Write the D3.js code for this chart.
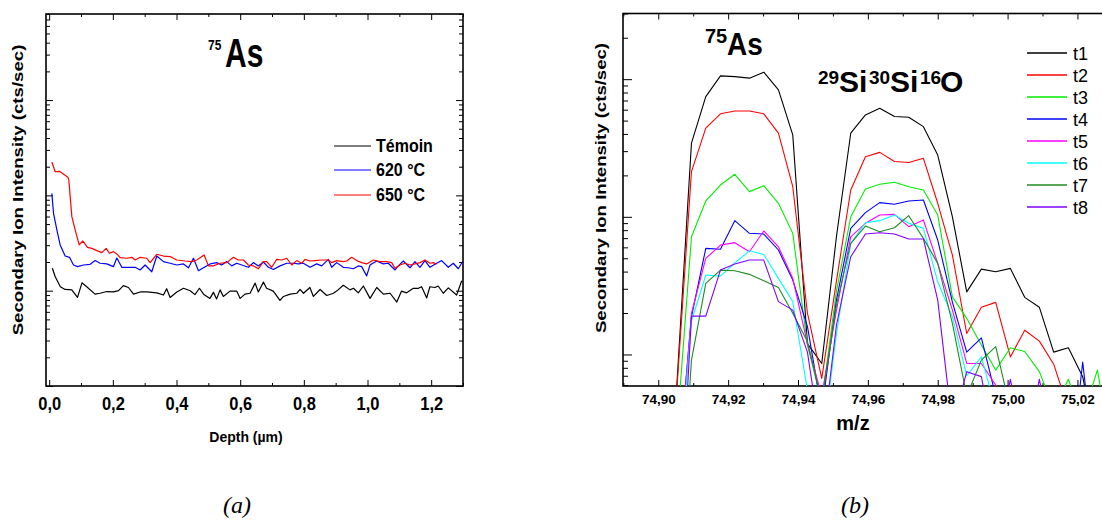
<!DOCTYPE html>
<html><head><meta charset="utf-8">
<script src="https://cdn.jsdelivr.net/npm/d3@7"></script>
<style>
body{margin:0;background:#fff}
svg{display:block}
text{font-family:Arial,"Liberation Sans",sans-serif;fill:#000}
</style>
</head><body>
<svg id="c" width="1102" height="520"></svg>
<script>
// ---------------- Panel (a): depth profiles ----------------
const depthTemoin = [0.010,0.019,0.035,0.050,0.071,0.089,0.103,0.118,0.144,0.160,0.181,0.202,0.218,0.233,0.249,0.265,0.286,0.307,0.338,0.359,0.369,0.380,0.401,0.422,0.443,0.458,0.472,0.485,0.505,0.516,0.526,0.537,0.547,0.568,0.589,0.600,0.615,0.631,0.647,0.657,0.673,0.683,0.704,0.725,0.736,0.757,0.778,0.788,0.799,0.819,0.830,0.851,0.872,0.893,0.903,0.924,0.945,0.956,0.971,0.987,1.008,1.029,1.050,1.071,1.092,1.107,1.123,1.144,1.160,1.170,1.186,1.196,1.212,1.222,1.238,1.254,1.280,1.296];
const temoin = [17.2,14.0,11.0,10.3,10.2,8.5,12.1,11.0,9.2,9.4,9.8,9.7,10.0,11.3,10.8,9.2,9.7,9.7,9.5,9.0,10.5,8.5,9.7,10.6,10.0,9.1,10.6,9.2,8.3,9.6,8.2,10.2,8.7,9.9,9.9,8.3,9.2,9.4,12.0,9.7,12.3,10.6,9.9,7.9,8.7,9.2,9.4,10.3,9.4,10.8,8.7,10.3,8.9,9.4,9.9,11.4,10.2,10.6,9.5,11.2,8.3,10.8,9.2,9.4,7.6,9.9,9.5,10.6,10.6,11.0,8.4,11.0,10.8,11.2,9.4,10.7,9.0,12.7];

const depth620 = [0.0084,0.0136,0.0241,0.0345,0.0502,0.0638,0.0764,0.0890,0.1078,0.1287,0.1444,0.1601,0.1811,0.2020,0.2125,0.2282,0.2491,0.2700,0.2857,0.3014,0.3223,0.3380,0.3590,0.3799,0.4008,0.4218,0.4375,0.4532,0.4689,0.4846,0.5055,0.5264,0.5421,0.5578,0.5735,0.5892,0.6049,0.6259,0.6415,0.6572,0.6729,0.6886,0.7043,0.7253,0.7462,0.7671,0.7828,0.7985,0.8195,0.8404,0.8561,0.8770,0.8875,0.9032,0.9241,0.9398,0.9555,0.9712,0.9817,0.9974,1.0079,1.0288,1.0497,1.0654,1.0864,1.0968,1.1125,1.1334,1.1491,1.1648,1.1805,1.1962,1.2119,1.2329,1.2538,1.2695,1.2852,1.2988];
const v620 = [105,64.9,43.4,30.2,23.1,22.4,18.6,17.9,18.6,18.9,20.7,19.4,19.1,17.9,22.0,17.6,17.6,17.6,16.5,18.6,15.8,23.1,20.2,19.4,18.6,19.1,17.4,21.9,16.2,17.4,19.1,19.7,18.6,20.2,18.2,19.4,18.6,17.6,19.7,18.2,20.0,17.6,16.7,18.2,19.4,19.4,19.1,19.4,17.6,19.1,18.2,21.3,17.6,19.7,17.6,17.4,17.0,18.2,17.9,14.3,18.6,20.5,19.1,19.4,16.5,18.2,20.5,17.4,20.2,17.6,20.7,17.6,18.9,20.7,17.6,19.4,17.0,20.2];

const depth650 = [0.0084,0.0188,0.0324,0.0586,0.0617,0.0712,0.0816,0.0942,0.1057,0.1204,0.1340,0.1497,0.1654,0.1790,0.1894,0.2020,0.2125,0.2229,0.2438,0.2596,0.2700,0.2857,0.3066,0.3171,0.3380,0.3590,0.3799,0.4008,0.4270,0.4479,0.4636,0.4867,0.5003,0.5160,0.5369,0.5578,0.5788,0.5944,0.6101,0.6259,0.6415,0.6572,0.6729,0.6834,0.6991,0.7148,0.7305,0.7462,0.7619,0.7776,0.7933,0.8038,0.8195,0.8352,0.8561,0.8770,0.8875,0.9032,0.9241,0.9346,0.9503,0.9660,0.9817,0.9974,1.0183,1.0392,1.0602,1.0759,1.0864,1.1020,1.1177,1.1334,1.1491,1.1648,1.1805,1.1962,1.2067,1.2171];
const v650 = [224,177,179,155,145,59.8,43.4,30.2,33.2,28.5,27.8,26.3,25.1,27.8,24.7,25.7,24.3,22.2,21.9,22.4,21.0,22.4,21.9,19.7,24.1,23.1,22.8,21.0,20.5,20.2,21.0,23.7,18.2,18.2,19.4,19.7,22.4,21.0,21.0,18.6,18.2,17.0,20.2,20.2,17.6,21.3,21.0,21.9,18.6,20.7,19.4,21.3,20.5,20.7,21.0,21.0,19.7,20.7,20.2,20.5,22.4,20.7,19.7,19.1,21.0,20.2,20.2,19.7,17.2,18.6,19.4,18.6,19.1,19.7,21.0,19.4,19.7,18.9];

const legendA = ["Témoin","620 °C","650 °C"];
const colorsA = ["#000000","#0000ff","#ff0000"];
const xMajorA = [0,0.2,0.4,0.6,0.8,1.0,1.2];
const xMinorA = [0.1,0.3,0.5,0.7,0.9,1.1,1.3];
const yMajorA = [1,10,100,1000];

// ---------------- Panel (b): mass spectra ----------------
const mz = [74.9012,74.9053,74.9095,74.9136,74.9178,74.9219,74.9261,74.9302,74.9344,74.9385,74.9427,74.9468,74.9510,74.9551,74.9593,74.9634,74.9676,74.9717,74.9759,74.9800,74.9842,74.9883,74.9925,74.9966,75.0008,75.0049,75.0091,75.0132,75.0174,75.0215,75.0257,75.0298];
const t1 = [1,59,3430,7470,10570,10440,10170,11240,8360,3940,120,86,716,4050,5500,6150,5350,5290,4520,2810,1000,285,417,399,422,260,220,104,112,69,20,10];
const t2 = [1,55,2130,4410,5600,5870,5870,5600,4050,1655,200,67,341,1567,2735,2940,2520,2480,2660,1254,527,142,220,239,96,150,125,85,40,20,10,5];
const t3 = [1,27,716,1303,1702,2036,1524,1683,1254,758,117,45,288,1000,1593,1722,1782,1655,1567,1030,262,183,117,77,112,105,75,40,66,35,77,20];
const t4 = [1,11,188,590,581,938,759,750,574,347,160,39,248,824,1072,1267,1233,1303,1325,678,240,104,132,50,20,10,10,10,10,88,10,5];
const t5 = [1,9.7,199,499,623,649,557,789,606,357,120,50,209,716,897,1030,1042,848,948,459,210,86,86,60,30,10,10,10,10,10,10,5];
const t6 = [1,8,175,378,371,463,566,533,357,242,55,20,141,641,906,938,1030,897,824,337,188,70,96,40,10,10,10,10,10,10,10,5];
const t7 = [1,2,91,328,410,406,382,343,307,199,124,45,229,641,857,780,833,1019,697,459,168,50,91,114,40,10,10,10,10,10,10,5];
const t8 = [1,2,190,190,410,454,485,485,242,210,104,21,163,513,750,766,750,690,690,248,30,75,69,20,66,20,66,20,10,10,10,5];
const seriesB = [t1,t2,t3,t4,t5,t6,t7,t8];
const legendB = ["t1","t2","t3","t4","t5","t6","t7","t8"];
const colorsB = ["#000000","#ff0000","#00ee00","#0000ff","#ff00ff","#00ffff","#228b22","#8000ff"];
const xMajorB = [74.90,74.92,74.94,74.96,74.98,75.00,75.02];
const xMinorB = [74.89,74.91,74.93,74.95,74.97,74.99,75.01];
const yMajorB = [100,1000,10000];

// ---------------- drawing ----------------
const svg = d3.select("#c");
const defs = svg.append("defs");

function minorLog(domain){
  const out=[];
  for(let e=-3;e<=6;e++){for(let m=2;m<=9;m++){const v=m*Math.pow(10,e); if(v>=domain[0]&&v<=domain[1]) out.push(v);}}
  return out;
}
function styleAxis(g){ g.select(".domain").remove(); g.selectAll(".tick line").attr("stroke","#000").attr("stroke-width",1); }

// Panel A
const A = {l:46, r:463, t:14, b:386};
const xA = d3.scaleLinear().domain([-0.01,1.30]).range([A.l,A.r]);
const yA = d3.scaleLog().domain([1,8000]).range([A.b,A.t]);
defs.append("clipPath").attr("id","clipA").append("rect").attr("x",A.l).attr("y",A.t).attr("width",A.r-A.l).attr("height",A.b-A.t);

const gA = svg.append("g");
const fmtA = v => d3.format(".1f")(v).replace(".",",");
gA.append("g").attr("transform",`translate(0,${A.b})`).call(d3.axisBottom(xA).tickValues(xMajorA).tickSizeInner(-6).tickSizeOuter(0).tickFormat(fmtA)).call(styleAxis)
  .selectAll("text").attr("y",0).attr("dy",null).attr("transform","translate(0,24) scale(1,1.12)")
  .style("font-size","16.5px").style("font-weight","bold").style("font-family","Arial, 'Liberation Sans', sans-serif");
gA.append("g").attr("transform",`translate(0,${A.b})`).call(d3.axisBottom(xA).tickValues(xMinorA).tickSizeInner(-3).tickSizeOuter(0).tickFormat("")).call(styleAxis);
gA.append("g").attr("transform",`translate(0,${A.t})`).call(d3.axisTop(xA).tickValues(xMajorA).tickSizeInner(-6).tickSizeOuter(0).tickFormat("")).call(styleAxis);
gA.append("g").attr("transform",`translate(0,${A.t})`).call(d3.axisTop(xA).tickValues(xMinorA).tickSizeInner(-3).tickSizeOuter(0).tickFormat("")).call(styleAxis);
gA.append("g").attr("transform",`translate(${A.l},0)`).call(d3.axisLeft(yA).tickValues(yMajorA).tickSizeInner(-7).tickSizeOuter(0).tickFormat("")).call(styleAxis);
gA.append("g").attr("transform",`translate(${A.l},0)`).call(d3.axisLeft(yA).tickValues(minorLog(yA.domain())).tickSizeInner(-4).tickSizeOuter(0).tickFormat("")).call(styleAxis);
gA.append("g").attr("transform",`translate(${A.r},0)`).call(d3.axisRight(yA).tickValues(yMajorA).tickSizeInner(-7).tickSizeOuter(0).tickFormat("")).call(styleAxis);
gA.append("g").attr("transform",`translate(${A.r},0)`).call(d3.axisRight(yA).tickValues(minorLog(yA.domain())).tickSizeInner(-4).tickSizeOuter(0).tickFormat("")).call(styleAxis);
gA.append("rect").attr("x",A.l).attr("y",A.t).attr("width",A.r-A.l).attr("height",A.b-A.t).attr("fill","none").attr("stroke","#000").attr("stroke-width",1.6);

const lineA = d3.line().x(d=>xA(d[0])).y(d=>yA(d[1]));
const dataA = [d3.zip(depthTemoin,temoin), d3.zip(depth620,v620), d3.zip(depth650,v650)];
const gLA = gA.append("g").attr("clip-path","url(#clipA)");
[0,1,2].forEach(i=>{
  gLA.append("path").datum(dataA[i]).attr("d",lineA).attr("fill","none").attr("stroke",colorsA[i]).attr("stroke-width",1.2).attr("stroke-linejoin","round");
});
legendA.forEach((s,i)=>{
  const y = [146,170,195][i];
  gA.append("line").attr("x1",334).attr("x2",371).attr("y1",y).attr("y2",y).attr("stroke",colorsA[i]).attr("stroke-width",1.2);
  gA.append("text").attr("transform",`translate(376,${y+6}) scale(1,1.15)`).text(s).style("font-size","16px").style("font-weight","bold");
});
gA.append("text").attr("transform","translate(22.5,190) rotate(-90) scale(1.33,1)").attr("text-anchor","middle")
  .text("Secondary Ion Intensity (cts/sec)").style("font-size","14px").style("font-weight","bold");
gA.append("text").attr("x",246).attr("y",442).attr("text-anchor","middle").text("Depth (µm)").style("font-size","14px").style("font-weight","bold");
gA.append("text").attr("transform","translate(208,50) scale(1,1.17)").text("75").style("font-size","12px").style("font-weight","bold");
gA.append("text").attr("transform","translate(225,66.5) scale(1,1.33)").text("As").style("font-size","30px").style("font-weight","bold");
svg.append("text").attr("x",237).attr("y",513).attr("text-anchor","middle").text("(a)")
  .style("font-family","'Liberation Serif','Times New Roman',serif").style("font-style","italic").style("font-size","24px");

// Panel B
const B = {l:623, r:1104, t:13.5, b:386};
const xB = d3.scaleLinear().domain([74.8899,75.0276]).range([B.l,B.r]);
const yB = d3.scaleLog().domain([59,30000]).range([B.b,B.t]);
defs.append("clipPath").attr("id","clipB").append("rect").attr("x",B.l).attr("y",B.t).attr("width",B.r-B.l).attr("height",B.b-B.t);
const gB = svg.append("g");
const fmtB = v => d3.format(".2f")(v).replace(".",",");
gB.append("g").attr("transform",`translate(0,${B.b})`).call(d3.axisBottom(xB).tickValues(xMajorB).tickSizeInner(-6).tickSizeOuter(0).tickFormat(fmtB)).call(styleAxis)
  .selectAll("text").attr("y",0).attr("dy",null).attr("transform","translate(0,18)")
  .style("font-size","13.5px").style("font-weight","bold").style("font-family","Arial, 'Liberation Sans', sans-serif");
gB.append("g").attr("transform",`translate(0,${B.b})`).call(d3.axisBottom(xB).tickValues(xMinorB).tickSizeInner(-3).tickSizeOuter(0).tickFormat("")).call(styleAxis);
gB.append("g").attr("transform",`translate(0,${B.t})`).call(d3.axisTop(xB).tickValues(xMajorB).tickSizeInner(-6).tickSizeOuter(0).tickFormat("")).call(styleAxis);
gB.append("g").attr("transform",`translate(0,${B.t})`).call(d3.axisTop(xB).tickValues(xMinorB).tickSizeInner(-3).tickSizeOuter(0).tickFormat("")).call(styleAxis);
gB.append("g").attr("transform",`translate(${B.l},0)`).call(d3.axisLeft(yB).tickValues(yMajorB).tickSizeInner(-9).tickSizeOuter(0).tickFormat("")).call(styleAxis);
gB.append("g").attr("transform",`translate(${B.l},0)`).call(d3.axisLeft(yB).tickValues(minorLog(yB.domain())).tickSizeInner(-5).tickSizeOuter(0).tickFormat("")).call(styleAxis);
gB.append("rect").attr("x",B.l).attr("y",B.t).attr("width",B.r-B.l).attr("height",B.b-B.t).attr("fill","none").attr("stroke","#000").attr("stroke-width",1.6);

const lineB = d3.line().x(d=>xB(d[0])).y(d=>yB(d[1]));
const gLB = gB.append("g").attr("clip-path","url(#clipB)");
seriesB.forEach((s,i)=>{
  gLB.append("path").datum(d3.zip(mz,s)).attr("d",lineB).attr("fill","none").attr("stroke",colorsB[i]).attr("stroke-width",1.1).attr("stroke-linejoin","round");
});
legendB.forEach((s,i)=>{
  const y = 53 + i*22;
  gB.append("line").attr("x1",1027).attr("x2",1067).attr("y1",y).attr("y2",y).attr("stroke",colorsB[i]).attr("stroke-width",1.3);
  gB.append("text").attr("x",1073).attr("y",y+6.5).text(s).style("font-size","18px");
});
gB.append("text").attr("transform","translate(606,188) rotate(-90) scale(1.24,1)").attr("text-anchor","middle")
  .text("Secondary Ion Intensity (cts/sec)").style("font-size","15px").style("font-weight","bold");
gB.append("text").attr("x",853).attr("y",430).attr("text-anchor","middle").text("m/z").style("font-size","20px").style("font-weight","bold");
gB.append("text").attr("x",705).attr("y",43).text("75").style("font-size","20px").style("font-weight","bold");
gB.append("text").attr("transform","translate(727,55) scale(1,1.1)").text("As").style("font-size","28px").style("font-weight","bold");
[["29",818,84,19],["Si",839,92,30],["30",869,84,19],["Si",890,92,30],["16",920,84,19],["O",940,92,30]].forEach(p=>{
  gB.append("text").attr("x",p[1]).attr("y",p[2]).text(p[0]).style("font-size",p[3]+"px").style("font-weight","bold");
});
svg.append("text").attr("x",855).attr("y",513).attr("text-anchor","middle").text("(b)")
  .style("font-family","'Liberation Serif','Times New Roman',serif").style("font-style","italic").style("font-size","24px");
</script>
</body></html>
